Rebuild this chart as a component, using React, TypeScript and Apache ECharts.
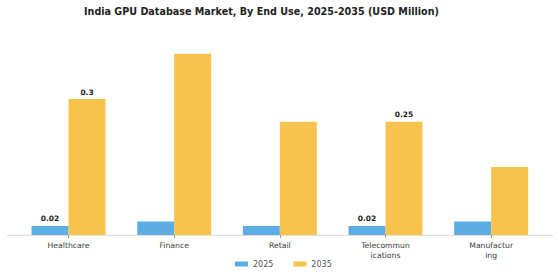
import React, { useEffect, useRef } from "react";
import * as echarts from "echarts";

const categories = ["Healthcare", "Finance", "Retail", "Telecommun\nications", "Manufactur\ning"];
const values2025 = [0.02, 0.03, 0.02, 0.02, 0.03];
const values2035 = [0.3, 0.4, 0.25, 0.25, 0.15];
const labeled2025 = [true, false, false, true, false];
const labeled2035 = [true, false, false, true, false];
const seriesNames = ["2025", "2035"];
const title = "India GPU Database Market, By End Use, 2025-2035 (USD Million)";

export default function App() {
  const ref = useRef<HTMLDivElement>(null);
  useEffect(() => {
    if (!ref.current) return;
    const chart = echarts.init(ref.current, undefined, { renderer: "svg" });
    const font = "DejaVu Sans";
    const mk = (vals: number[], flags: boolean[]) =>
      vals.map((v, i) => ({
        value: v,
        label: {
          show: flags[i],
          position: "top",
          distance: 3,
          formatter: (p: any) => String(p.value),
          fontFamily: font,
          fontSize: 7.5,
          fontWeight: "bold",
          color: "#222",
        },
      }));
    chart.setOption({
      animation: false,
      backgroundColor: "#ffffff",
      title: {
        text: title,
        left: 79,
        top: 1,
        textStyle: { fontFamily: font, fontSize: 9.6, fontWeight: "bold", color: "#222" },
      },
      legend: {
        bottom: 7,
        left: 230,
        itemWidth: 13,
        itemHeight: 5,
        itemGap: 20,
        icon: "rect",
        textStyle: { fontFamily: font, fontSize: 8, color: "#555" },
        data: seriesNames,
      },
      grid: { left: 15.7, right: 16, top: 35.7, bottom: 45, containLabel: false },
      xAxis: {
        type: "category",
        data: categories,
        axisLine: { show: false },
        axisTick: { show: true, alignWithLabel: true, length: 3, lineStyle: { color: "#999" } },
        axisLabel: { fontFamily: font, fontSize: 7.7, color: "#3a3a3a", margin: 5, lineHeight: 10, interval: 0 },
      },
      yAxis: {
        type: "value",
        min: 0,
        max: 0.44,
        show: false,
        splitLine: { show: false },
      },
      graphic: [
        {
          type: "line",
          shape: { x1: 7, y1: 235.3, x2: 553, y2: 235.3 },
          style: { stroke: "#d8d8d8", lineWidth: 1 },
          z: 0,
        },
      ],
      series: [
        {
          name: seriesNames[0],
          type: "bar",
          data: mk(values2025, labeled2025),
          itemStyle: { color: "#5DADE2" },
          barGap: "0%",
          barCategoryGap: "30%",
        },
        {
          name: seriesNames[1],
          type: "bar",
          data: mk(values2035, labeled2035),
          itemStyle: { color: "#F8C24F" },
          barGap: "0%",
          barCategoryGap: "30%",
        },
      ],
    });
    return () => chart.dispose();
  }, []);
  return <div ref={ref} style={{ width: 560, height: 280, position: "absolute", left: 0, top: 0 }} />;
}
